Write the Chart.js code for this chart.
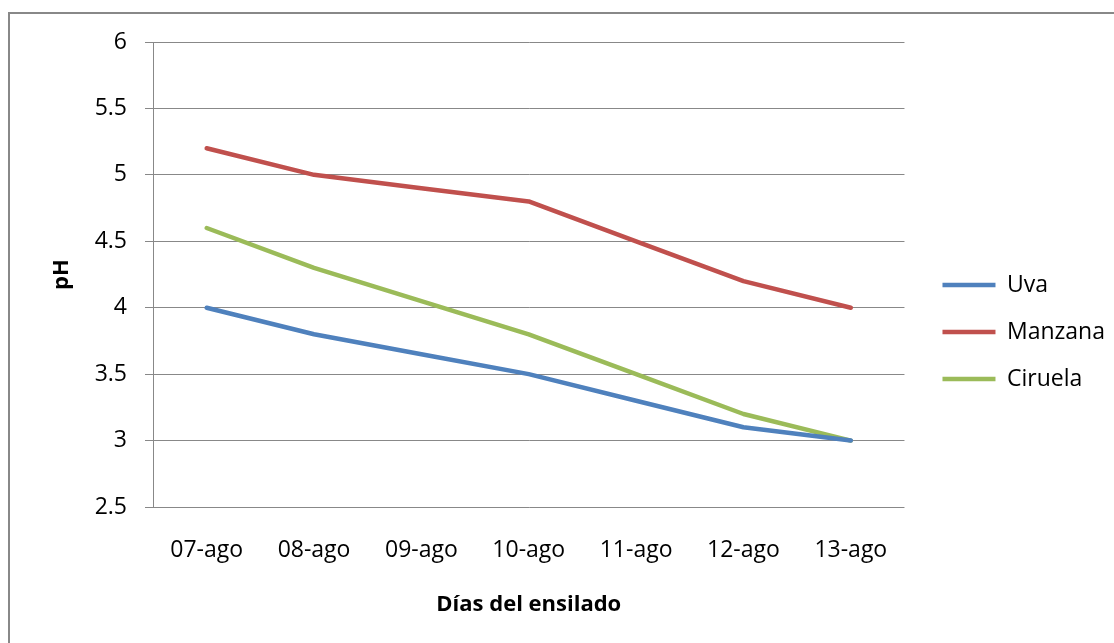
<!DOCTYPE html>
<html>
<head>
<meta charset="utf-8">
<script src="https://cdn.jsdelivr.net/npm/chart.js@4"></script>
<style>
  html, body { margin: 0; padding: 0; background: #fff; }
  #frame {
    position: absolute; left: 8px; top: 12px; width: 1200px; height: 700px;
    border-left: 2px solid #888; border-top: 2px solid #888;
  }
  #wrap { position: absolute; left: 0; top: 0; width: 1114px; height: 643px; }
</style>
</head>
<body>
<div id="frame"></div>
<div id="wrap"><canvas id="lineChart"></canvas></div>
<script>
const dias = ['07-ago', '08-ago', '09-ago', '10-ago', '11-ago', '12-ago', '13-ago'];
const uva = [4.0, 3.8, 3.65, 3.5, 3.3, 3.1, 3.0];
const manzana = [5.2, 5.0, 4.9, 4.8, 4.5, 4.2, 4.0];
const ciruela = [4.6, 4.3, 4.05, 3.8, 3.5, 3.2, 3.0];
const phTicks = [2.5, 3, 3.5, 4, 4.5, 5, 5.5, 6];

const font = 'Open Sans';
const gridColor = '#888';

function serie(label, data, color) {
  return {
    label: label,
    data: data,
    borderColor: color,
    backgroundColor: color,
    borderWidth: 4.5,
    borderCapStyle: 'round',
    borderJoinStyle: 'round',
    pointRadius: 0,
    pointStyle: 'line',
    tension: 0,
    fill: false
  };
}

// nudge the legend a bit to the right, like the original
const legendShift = {
  id: 'legendShift',
  afterLayout(chart) {
    chart.legend.left += 14;
    chart.legend.right += 14;
  }
};

const ctx = document.getElementById('lineChart').getContext('2d');

window.lineChart = new Chart(ctx, {
  type: 'line',
  data: {
    labels: dias,
    datasets: [
      serie('Uva', uva, '#4F81BD'),
      serie('Manzana', manzana, '#C0504D'),
      serie('Ciruela', ciruela, '#9BBB59')
    ]
  },
  plugins: [legendShift],
  options: {
    responsive: true,
    maintainAspectRatio: false,
    animation: false,
    layout: { padding: { left: 45, top: 42, right: 13, bottom: 21 } },
    plugins: {
      tooltip: { enabled: false },
      legend: {
        position: 'right',
        labels: {
          usePointStyle: true,
          pointStyleWidth: 53,
          padding: 24,
          color: '#000',
          font: { family: font, size: 23 }
        }
      }
    },
    scales: {
      x: {
        offset: true,
        grid: { display: true, drawOnChartArea: false, drawTicks: false, color: 'rgba(0,0,0,0)' },
        border: { display: false },
        ticks: { color: '#000', padding: 30, maxRotation: 0, font: { family: font, size: 23 } },
        title: { display: true, text: 'Días del ensilado', color: '#000', font: { family: font, size: 22, weight: 'bold' } },
        afterFit: s => { s.height = 643 - 507 - 21; }
      },
      y: {
        min: 2.5,
        max: 6,
        afterBuildTicks: s => { s.ticks = phTicks.map(v => ({ value: v })); },
        ticks: { color: '#000', padding: 18, font: { family: font, size: 23 }, callback: v => String(v) },
        grid: { color: gridColor, lineWidth: 1, tickLength: 8 },
        border: { display: true, color: gridColor, width: 1 },
        title: { display: true, text: 'pH', color: '#000', font: { family: font, size: 22, weight: 'bold' } },
        afterFit: s => { s.width = 153 - 45; }
      }
    }
  }
});
</script>
</body>
</html>
